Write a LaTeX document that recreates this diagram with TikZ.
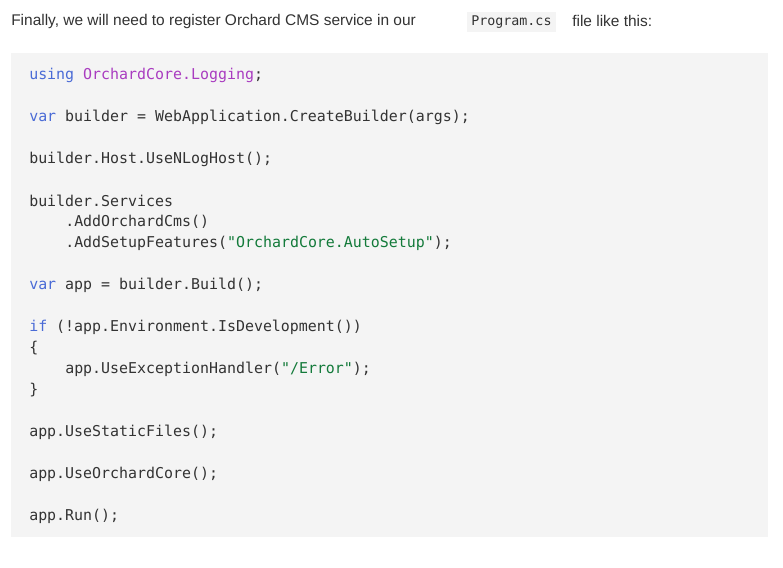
\documentclass[tikz,border=0pt]{standalone}
\usepackage{fontspec}
\setmainfont{Liberation Sans}
\setmonofont{DejaVu Sans Mono}
\definecolor{bg}{HTML}{F4F4F4}
\definecolor{txt}{HTML}{333333}
\definecolor{kw}{HTML}{4A6BD6}
\definecolor{ns}{HTML}{A93CC0}
\definecolor{str}{HTML}{137A3A}
\definecolor{pn}{HTML}{555555}
\newcommand{\K}[1]{\textcolor{kw}{#1}}
\newcommand{\N}[1]{\textcolor{ns}{#1}}
\newcommand{\Sg}[1]{\textcolor{str}{#1}}
\begin{document}
\begin{tikzpicture}[x=0.75pt,y=-0.75pt,
  codeline/.style={anchor=west,inner sep=0pt,text=txt,font=\fontsize{11.2pt}{13pt}\ttfamily}]
\useasboundingbox (0,0) rectangle (783,568);
\fill[white] (0,0) rectangle (783,568);
\fill[bg] (11,53) rectangle (768,537);
\node[anchor=west,inner sep=0pt,text=txt,font=\fontsize{11.6pt}{14pt}\selectfont] (head) at (11,21) {Finally, we will need to register Orchard CMS service in our};
\node[anchor=west,inner sep=0pt,fill=bg,minimum height=14.5pt,inner xsep=3pt,font=\fontsize{10pt}{12pt}\ttfamily,text=txt] (prog) at (467,22) {Program.cs};
\node[anchor=west,inner sep=0pt,text=txt,font=\fontsize{11.6pt}{14pt}\selectfont] (tail) at (572,21) {file like this:};
\node[codeline] (l1) at (29,75) {\K{using} \N{OrchardCore.Logging};};
\node[codeline] (l2) at (29,117) {\K{var} builder = WebApplication.CreateBuilder(args);};
\node[codeline] (l3) at (29,159) {builder.Host.UseNLogHost();};
\node[codeline] (l4) at (29,201) {builder.Services};
\node[codeline] (l5) at (65,222) {.AddOrchardCms()};
\node[codeline] (l6) at (65,243) {.AddSetupFeatures(\Sg{"OrchardCore.AutoSetup"});};
\node[codeline] (l7) at (29,285) {\K{var} app = builder.Build();};
\node[codeline] (l8) at (29,327) {\K{if} (!app.Environment.IsDevelopment())};
\node[codeline] (l9) at (29,348) {\{};
\node[codeline] (l10) at (65,369) {app.UseExceptionHandler(\Sg{"/Error"});};
\node[codeline] (l11) at (29,390) {\}};
\node[codeline] (l12) at (29,432) {app.UseStaticFiles();};
\node[codeline] (l13) at (29,474) {app.UseOrchardCore();};
\node[codeline] (l14) at (29,516) {app.Run();};
\end{tikzpicture}
\end{document}
